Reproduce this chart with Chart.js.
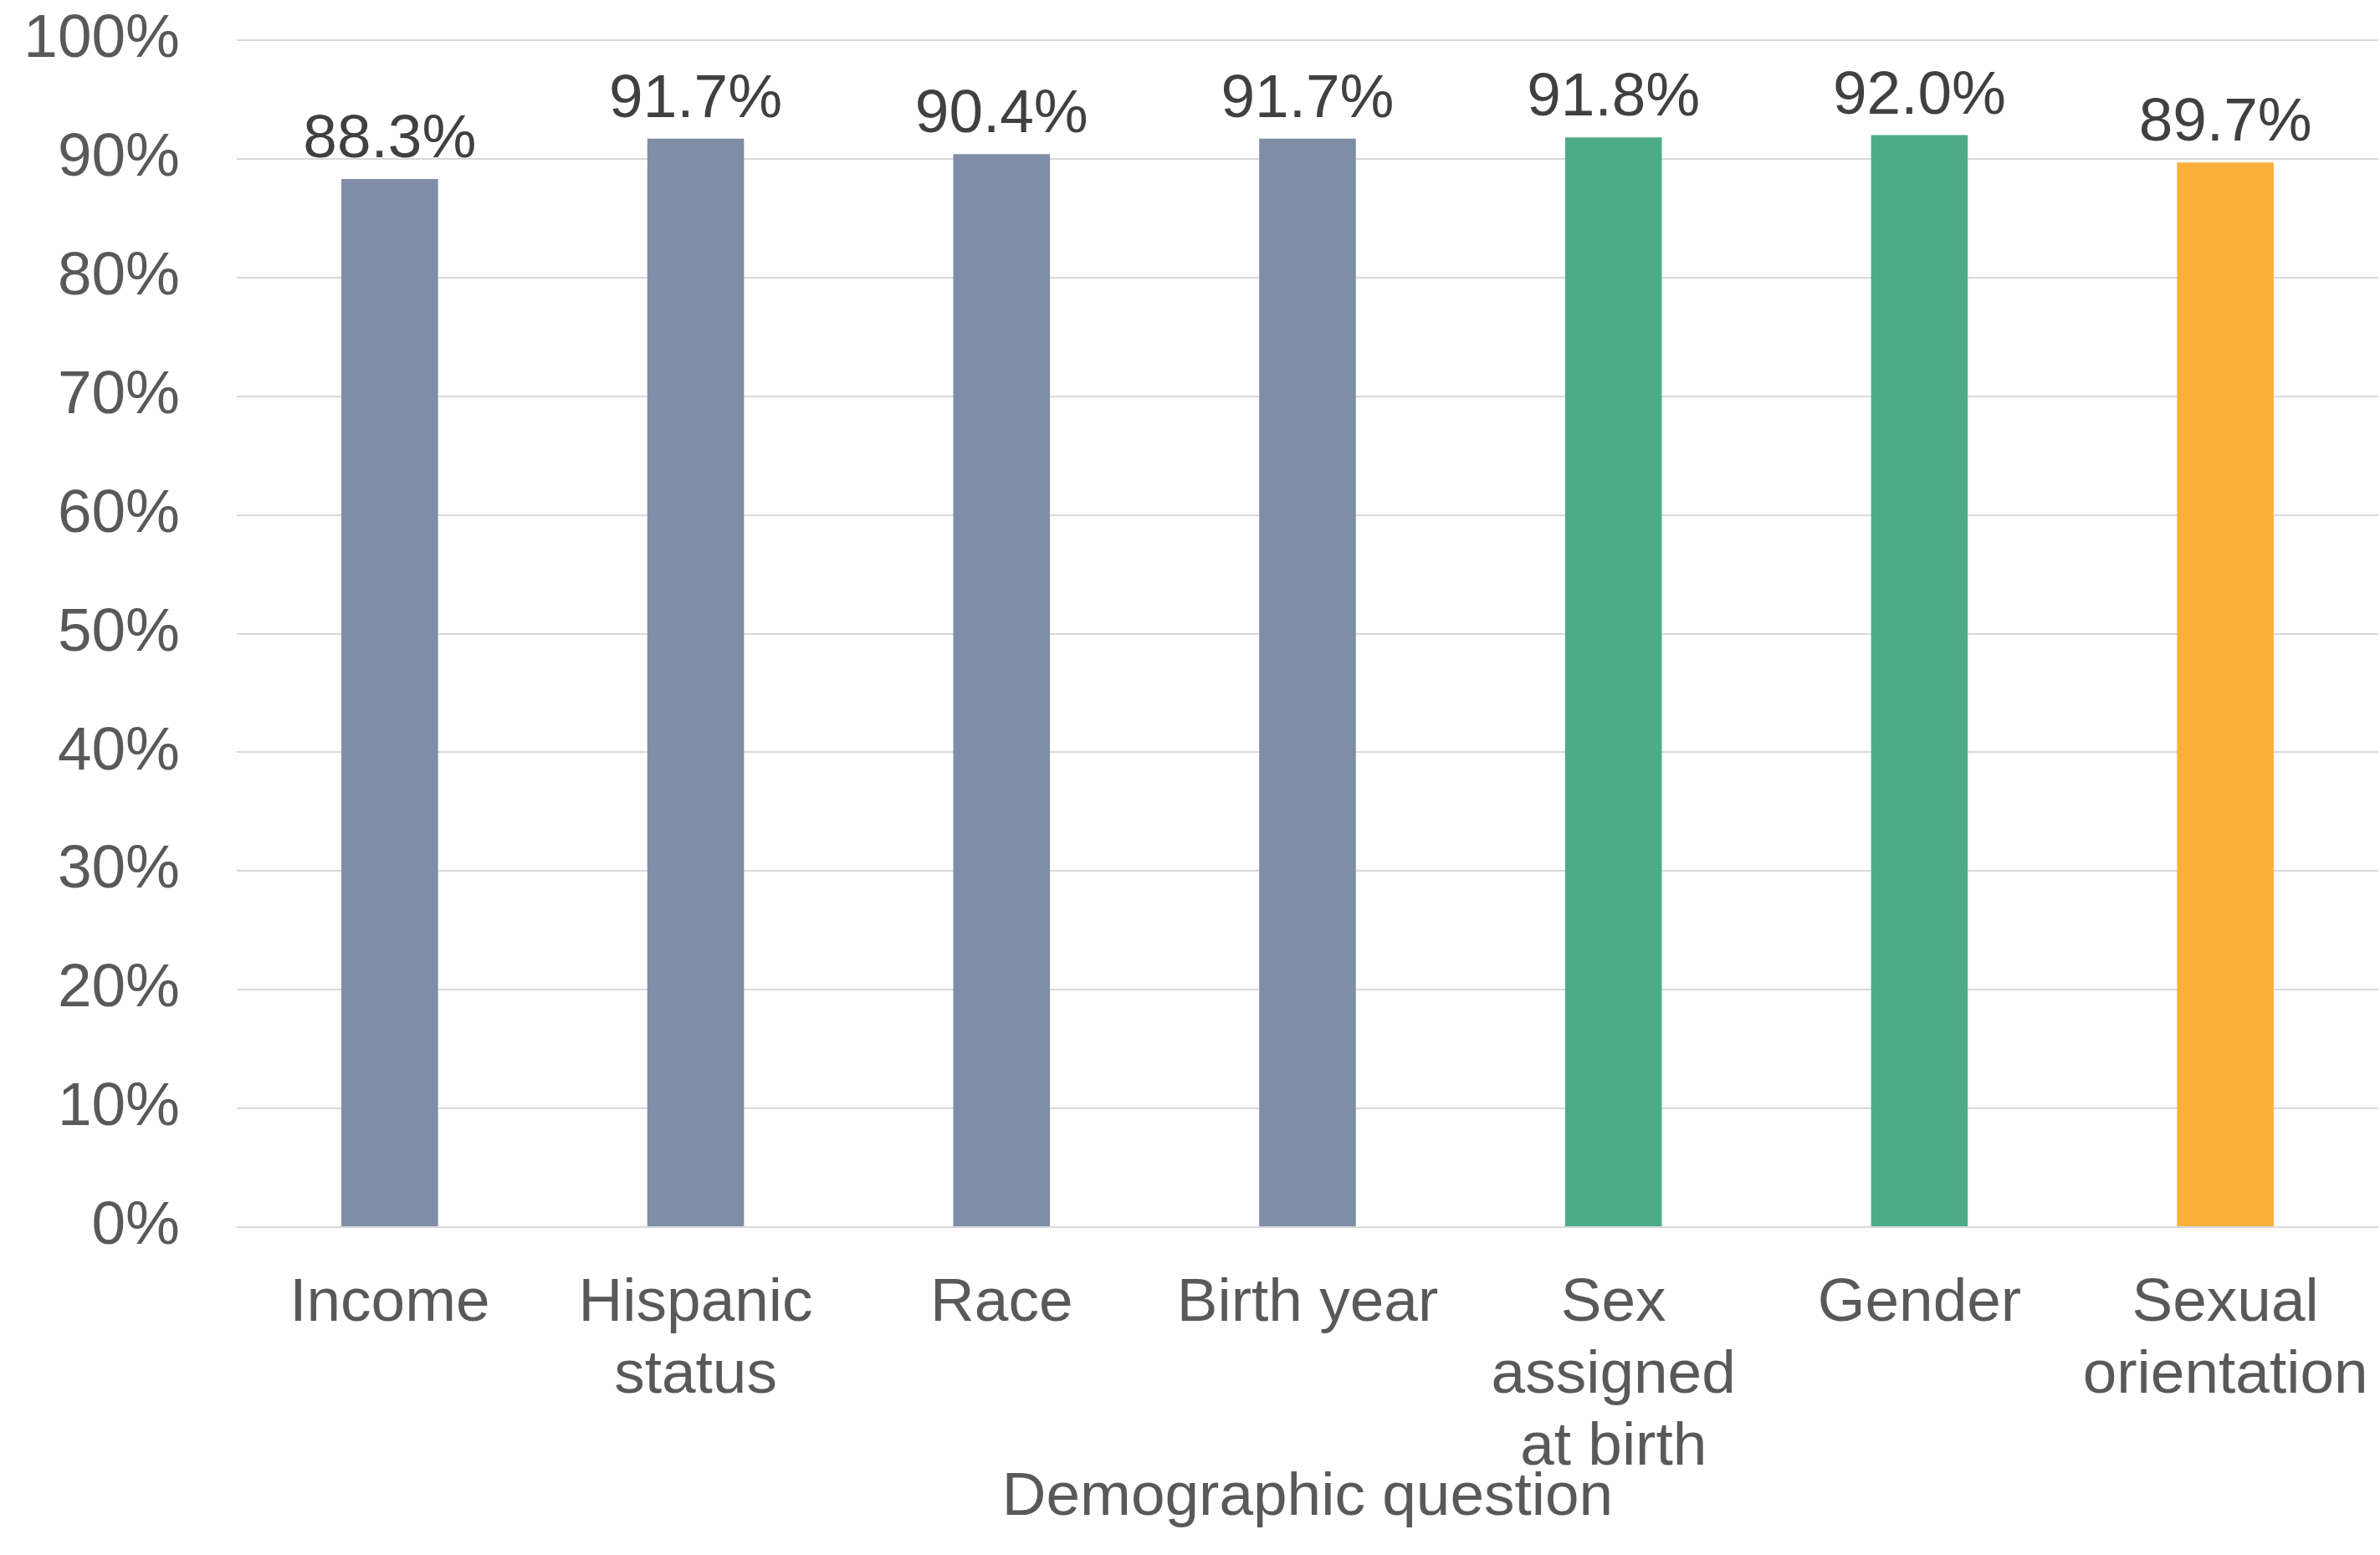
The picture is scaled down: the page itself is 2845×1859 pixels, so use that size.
<!DOCTYPE html>
<html>
<head>
<meta charset="utf-8">
<script src="https://cdn.jsdelivr.net/npm/chart.js@4/dist/chart.umd.min.js"></script>
<style>
  html, body { margin: 0; padding: 0; background: #ffffff; }
  #wrap { width: 2845px; height: 1859px; }
</style>
</head>
<body>
<div id="wrap"><canvas id="chart" width="2845" height="1859"></canvas></div>
<script>
//chart data
const categories = [
  ["Income"],
  ["Hispanic", "status"],
  ["Race"],
  ["Birth year"],
  ["Sex", "assigned", "at birth"],
  ["Gender"],
  ["Sexual", "orientation"]
];
const responseRates = [88.3, 91.7, 90.4, 91.7, 91.8, 92.0, 89.7];
const barColors = ["#808DA6", "#808DA6", "#808DA6", "#808DA6", "#4DAC87", "#4DAC87", "#FBB03B"];
const yTicks = [0, 10, 20, 30, 40, 50, 60, 70, 80, 90, 100];
const axisTitle = "Demographic question";

const fontFamily = "'Liberation Sans', Arial, sans-serif";

//draws the value above every bar
const valueLabels = {
  id: "valueLabels",
  afterDatasetsDraw(chart) {
    const ctx = chart.ctx;
    const meta = chart.getDatasetMeta(0);
    ctx.save();
    ctx.font = "73px " + fontFamily;
    ctx.fillStyle = "#404040";
    ctx.textAlign = "center";
    ctx.textBaseline = "alphabetic";
    meta.data.forEach((bar, i) => {
      ctx.fillText(responseRates[i].toFixed(1) + "%", bar.x, bar.y - 26);
    });
    ctx.restore();
  }
};

const ctx = document.getElementById("chart").getContext("2d");
const myChart = new Chart(ctx, {
  type: "bar",
  data: {
    labels: categories,
    datasets: [
      {
        data: responseRates,
        backgroundColor: barColors,
        borderWidth: 0,
        categoryPercentage: 1,
        barPercentage: 0.316
      }
    ]
  },
  plugins: [valueLabels],
  options: {
    responsive: false,
    animation: false,
    layout: {
      padding: { left: 33, right: 2, top: 48, bottom: 0 }
    },
    plugins: {
      legend: { display: false },
      tooltip: { enabled: false }
    },
    scales: {
      x: {
        //fixed sizes so the plot area matches the original
        afterFit: (axis) => {
          axis.height = 392;
          axis.paddingLeft = 0;
          axis.paddingRight = 0;
        },
        grid: { display: false, drawTicks: false },
        border: { display: false },
        ticks: {
          color: "#595959",
          padding: 49,
          maxRotation: 0,
          autoSkip: false,
          font: { family: fontFamily, size: 73, lineHeight: 1.18 }
        },
        title: {
          display: true,
          text: axisTitle,
          color: "#595959",
          padding: { top: 8, bottom: 26 },
          font: { family: fontFamily, size: 73, lineHeight: 1.164 }
        }
      },
      y: {
        min: 0,
        max: 100,
        afterBuildTicks: (axis) => {
          axis.ticks = yTicks.map((v) => ({ value: v }));
        },
        afterFit: (axis) => {
          axis.width = 250;
          axis.paddingTop = 0;
          axis.paddingBottom = 0;
        },
        grid: { color: "#D9D9D9", lineWidth: 2, drawTicks: false },
        border: { display: false },
        ticks: {
          color: "#595959",
          padding: 68,
          font: { family: fontFamily, size: 73 },
          callback: (v) => v + "%"
        }
      }
    }
  }
});
</script>
</body>
</html>
